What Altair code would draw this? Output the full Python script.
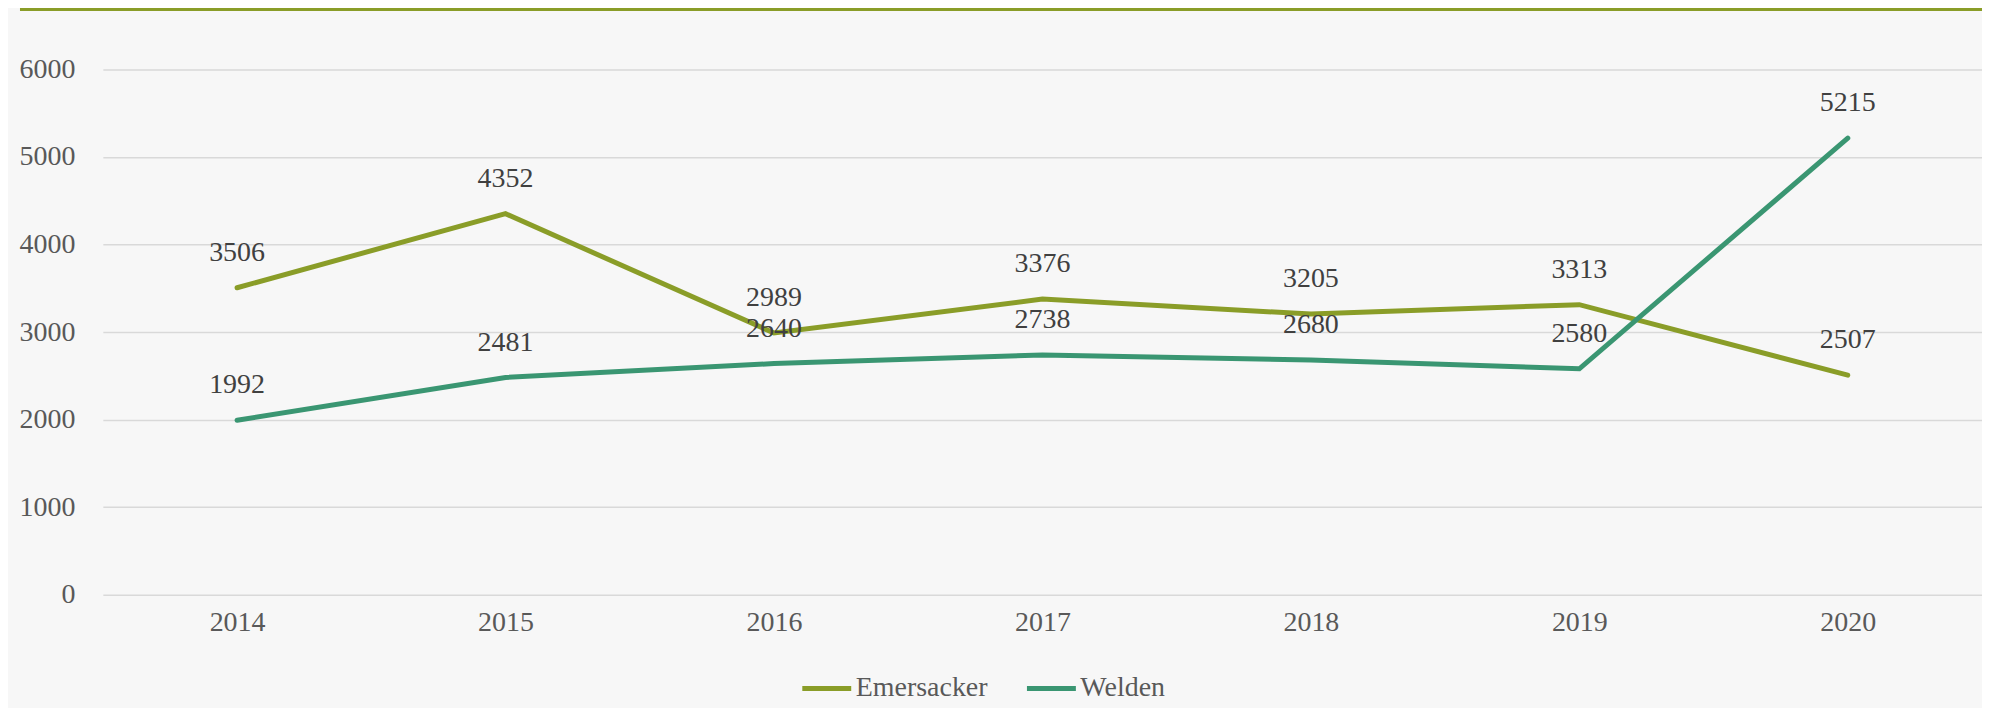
import altair as alt
import pandas as pd

years = ["2014", "2015", "2016", "2017", "2018", "2019", "2020"]
emersacker = [3506, 4352, 2989, 3376, 3205, 3313, 2507]
welden = [1992, 2481, 2640, 2738, 2680, 2580, 5215]
series_names = ["Emersacker", "Welden"]
series_colors = ["#8A9D28", "#3A9672"]

rows = []
for name, vals in zip(series_names, [emersacker, welden]):
    for y, v in zip(years, vals):
        rows.append({"Year": y, "Value": v, "Series": name})
df = pd.DataFrame(rows)

FONT = "Liberation Serif"

x = alt.X("Year:O", sort=years, scale=alt.Scale(type="point", padding=0.5),
          axis=alt.Axis(title=None, labelAngle=0, domain=False, ticks=False,
                        labelPadding=14, labelFontSize=28, labelFont=FONT,
                        labelColor="#595959", grid=False))
y = alt.Y("Value:Q", scale=alt.Scale(domain=[0, 6000], nice=False),
          axis=alt.Axis(title=None, values=[0, 1000, 2000, 3000, 4000, 5000, 6000],
                        format="d",
                        domain=False, ticks=False, labelPadding=28, labelFontSize=28,
                        labelFont=FONT, labelColor="#595959", grid=True,
                        gridColor="#D9D9D9", gridWidth=1.5))
color = alt.Color("Series:N", scale=alt.Scale(domain=series_names, range=series_colors),
                  legend=alt.Legend(title=None, orient="none", legendX=698, legendY=593,
                                    direction="horizontal", symbolType="stroke",
                                    symbolSize=2400, symbolStrokeWidth=5,
                                    labelFontSize=28, labelFont=FONT, labelColor="#595959",
                                    labelOffset=2, columnPadding=28))

lines = alt.Chart(df).mark_line(strokeWidth=5, strokeCap="round").encode(
    x=x, y=y, color=color)

labels = alt.Chart(df).mark_text(dy=-35, fontSize=28, font=FONT, color="#404040").encode(
    x=alt.X("Year:O", sort=years), y="Value:Q", text="Value:Q")

top_rule = alt.Chart(pd.DataFrame({"a": [0]})).mark_rule(
    color="#8A9D28", strokeWidth=3, clip=False).encode(
    x=alt.value(-83), x2=alt.value(1890), y=alt.value(-60))

chart = alt.layer(lines, labels, top_rule).properties(
    width=1882, height=526,
    autosize=alt.AutoSizeParams(type="none"),
    padding={"left": 95, "top": 61, "right": 0, "bottom": 113},
    background="#F7F7F7",
).configure_view(stroke=None)

chart.save("out.html", embed_options={"renderer": "svg", "actions": False})
